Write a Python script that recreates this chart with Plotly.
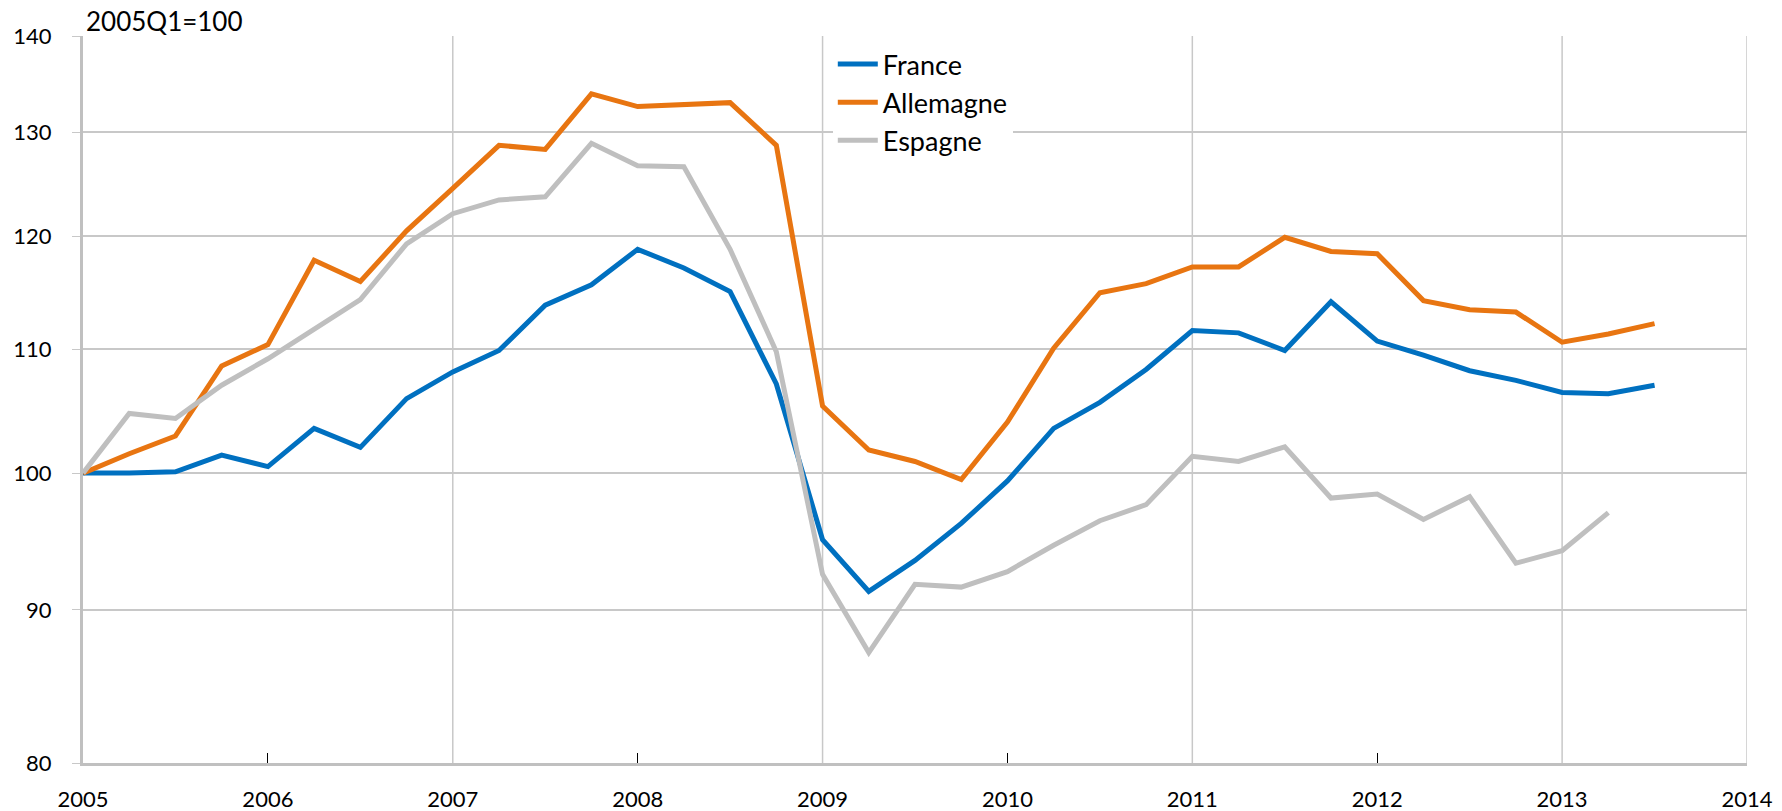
import plotly.graph_objects as go

# trimestres 2005Q1 .. 2013Q3
QUARTERS = [2005 + i / 4 for i in range(35)]

FRANCE = [
    100.0, 100.0, 100.1, 101.4, 100.5, 103.5, 102.0, 105.9, 108.1, 109.9,
    113.8, 115.6, 118.8, 117.1, 115.0, 107.1, 95.0, 91.3, 93.5, 96.2,
    99.4, 103.5, 105.6, 108.3, 111.6, 111.4, 109.9, 114.1, 110.7, 109.5,
    108.2, 107.4, 106.4, 106.3, 107.0,
]
ALLEMAGNE = [
    100.0, 101.5, 102.9, 108.6, 110.4, 117.8, 115.9, 120.5, 124.5, 128.7,
    128.3, 133.9, 132.6, 132.8, 133.0, 128.7, 105.3, 101.8, 100.9, 99.5,
    104.0, 110.1, 114.9, 115.7, 117.2, 117.2, 119.9, 118.6, 118.4, 114.2,
    113.4, 113.2, 110.6, 111.3, 112.2,
]
ESPAGNE = [
    100.0, 104.7, 104.3, 107.0, 109.2, 111.7, 114.3, 119.3, 122.1, 123.4,
    123.7, 128.9, 126.7, 126.6, 118.8, 109.8, 92.5, 87.1, 91.8, 91.6,
    92.7, 94.6, 96.4, 97.6, 101.3, 100.9, 102.05, 98.1, 98.4, 96.5,
    98.2, 93.3, 94.2, 97.0,
]

YEARS = list(range(2005, 2015))
Y_TICKS = [80, 90, 100, 110, 120, 130, 140]
GRID_YEARS = [2007, 2009, 2011, 2013, 2014]
MINOR_YEARS = [2006, 2008, 2010, 2012]

GRID = "#c8c8c8"
AXIS = "#c0c0c0"
FONT = "Lato"

series = [
    ("France", FRANCE, "#0070c0"),
    ("Allemagne", ALLEMAGNE, "#e87511"),
    ("Espagne", ESPAGNE, "#bfbfbf"),
]

fig = go.Figure()
for name, vals, color in series:
    fig.add_trace(go.Scatter(
        x=QUARTERS[:len(vals)], y=vals, mode="lines", name=name,
        line=dict(color=color, width=5),
    ))

# grille verticale tous les deux ans + bord droit
for yr in GRID_YEARS:
    fig.add_vline(x=yr, line=dict(color=GRID, width=1.5), layer="below")

fig.add_annotation(
    text="2005Q1=100", xref="paper", yref="paper", x=0, y=1.0,
    xshift=1, yshift=-3,
    xanchor="left", yanchor="bottom", showarrow=False,
    font=dict(family=FONT, size=26, color="black"),
)

# la page ajoute 8px de marge autour de la figure
fig.update_layout(
    width=1774, height=803,
    paper_bgcolor="white", plot_bgcolor="white",
    margin=dict(l=75, r=35, t=28, b=48),
    font=dict(family=FONT, size=22, color="black"),
    showlegend=True,
    legend=dict(
        x=0.4506, y=0.9945, xanchor="left", yanchor="top",
        bgcolor="white", font=dict(family=FONT, size=27),
        tracegroupgap=0, itemwidth=40,
    ),
    xaxis=dict(
        range=[2005, 2014], tickvals=YEARS, ticktext=[str(y) for y in YEARS],
        showgrid=False, zeroline=False, ticks="",
        showline=True, linecolor=AXIS, linewidth=3,
        minor=dict(tickvals=MINOR_YEARS, ticks="inside", ticklen=10,
                   tickcolor="black", tickwidth=1, showgrid=False),
        tickfont=dict(size=22), ticklabelstandoff=15, automargin=False,
    ),
    yaxis=dict(
        type="log", range=[1.90309, 2.146128], tickvals=Y_TICKS,
        ticktext=[str(v) for v in Y_TICKS],
        showgrid=True, gridcolor=GRID, gridwidth=1.5, zeroline=False,
        ticks="outside", ticklen=8, tickcolor=GRID,
        showline=True, linecolor=AXIS, linewidth=3,
        tickfont=dict(size=22), ticklabelstandoff=16, automargin=False,
    ),
)

fig.write_html("out.html")
